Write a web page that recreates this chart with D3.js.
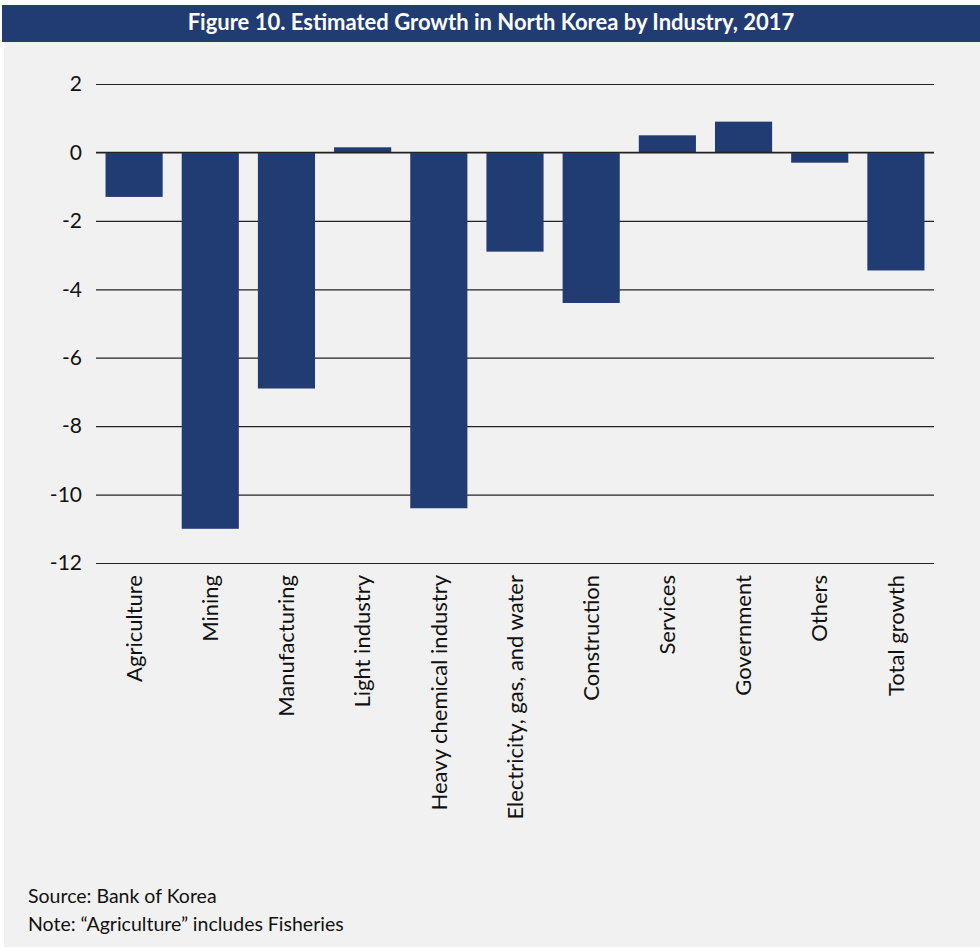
<!DOCTYPE html>
<html>
<head>
<meta charset="utf-8">
<script src="https://cdn.jsdelivr.net/npm/d3@7"></script>
<style>
  html, body { margin: 0; padding: 0; background: #ffffff; }
  svg { display: block; font-family: Lato, "Open Sans", sans-serif; }
</style>
</head>
<body>
<svg id="chart"></svg>
<script>
const width = 980;
const height = 951;
const margin = { top: 84, right: 46, bottom: 388, left: 96 };
const innerWidth = width - margin.left - margin.right;
const innerHeight = height - margin.top - margin.bottom;

const categories = [
  "Agriculture", "Mining", "Manufacturing", "Light industry",
  "Heavy chemical industry", "Electricity, gas, and water", "Construction",
  "Services", "Government", "Others", "Total growth"
];
const growth = [-1.3, -11.0, -6.9, 0.15, -10.4, -2.9, -4.4, 0.5, 0.9, -0.3, -3.45];
const yTicks = [2, 0, -2, -4, -6, -8, -10, -12];

const navy = "#213b73";

const svg = d3.select("#chart").attr("width", width).attr("height", height);

// panel + title bar
svg.append("rect").attr("x", 4).attr("y", 41).attr("width", width - 4).attr("height", height - 45).attr("fill", "#f1f1f1");
svg.append("rect").attr("x", 2).attr("y", 5).attr("width", width - 2).attr("height", 37).attr("fill", navy);
svg.append("text")
  .attr("x", 491).attr("y", 30)
  .attr("text-anchor", "middle")
  .attr("fill", "#ffffff")
  .attr("font-size", 22).attr("font-weight", 700)
  .text("Figure 10. Estimated Growth in North Korea by Industry, 2017");

const root = svg.append("g").attr("transform", `translate(${margin.left},${margin.top})`);

const x = d3.scaleBand().domain(categories).range([0, innerWidth]).paddingInner(0.25).paddingOuter(0.125);
const y = d3.scaleLinear().domain([-12, 2]).range([innerHeight, 0]);

// gridlines
root.append("g")
  .call(d3.axisLeft(y).tickValues(yTicks).tickSize(-innerWidth).tickFormat(""))
  .call((g) => g.select(".domain").remove())
  .call((g) => g.selectAll("line").attr("stroke", "#222").attr("stroke-width", 1.2));

// bars
root.append("g")
  .selectAll("rect")
  .data(categories)
  .join("rect")
  .attr("x", (d) => x(d))
  .attr("width", x.bandwidth())
  .attr("y", (d, i) => y(Math.max(0, growth[i])))
  .attr("height", (d, i) => Math.abs(y(growth[i]) - y(0)))
  .attr("fill", navy);

// zero line on top
root.append("line")
  .attr("x1", 0).attr("x2", innerWidth)
  .attr("y1", y(0)).attr("y2", y(0))
  .attr("stroke", "#222").attr("stroke-width", 1.2);

// y axis labels (plain hyphen minus, as in the source)
root.append("g")
  .call(d3.axisLeft(y).tickValues(yTicks).tickSize(0).tickPadding(14).tickFormat((d) => String(d)))
  .call((g) => g.select(".domain").remove())
  .call((g) => g.selectAll("text").attr("font-size", 21).attr("fill", "#111").attr("font-family", "Lato, sans-serif"));

// x axis labels (rotated)
root.append("g")
  .attr("transform", `translate(0,${innerHeight})`)
  .call(d3.axisBottom(x).tickSize(0).tickPadding(0))
  .call((g) => g.select(".domain").remove())
  .call((g) => g.selectAll("text")
    .attr("font-size", 22)
    .attr("fill", "#111")
    .attr("font-family", "Lato, sans-serif")
    .attr("text-anchor", "end")
    .attr("dy", "0.35em")
    .attr("transform", "translate(0,12) rotate(-90)")
    .attr("x", 0).attr("y", 0));

// footnotes
svg.append("text").attr("x", 28).attr("y", 903).attr("font-size", 19.5).attr("fill", "#111").text("Source: Bank of Korea");
svg.append("text").attr("x", 28).attr("y", 931).attr("font-size", 19.5).attr("fill", "#111").text("Note: \u201cAgriculture\u201d includes Fisheries");
</script>
</body>
</html>
